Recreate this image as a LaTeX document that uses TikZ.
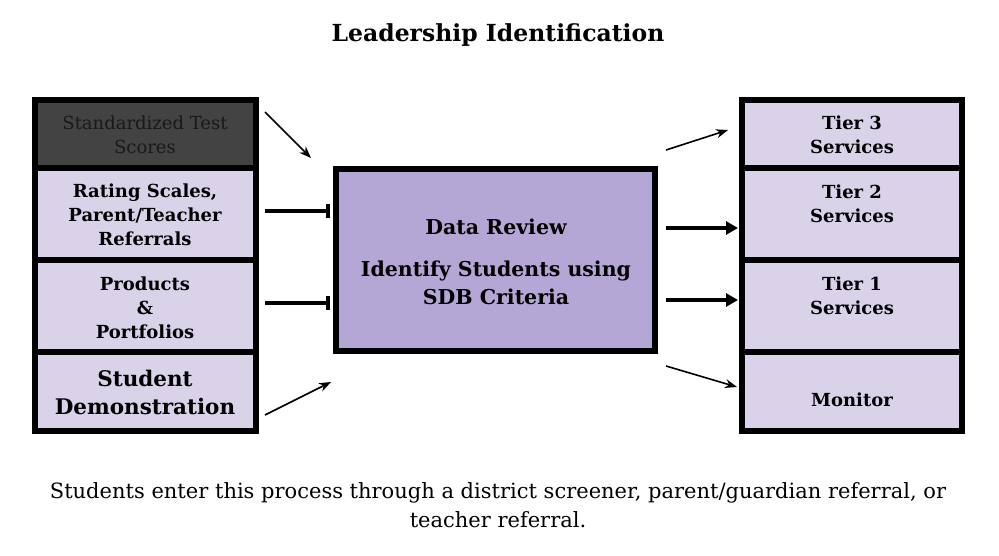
\documentclass[tikz,border=0pt]{standalone}
\usepackage{fontspec}
\setmainfont{DejaVu Serif}
\usetikzlibrary{arrows.meta}
\definecolor{cellc}{HTML}{D9D2E9}
\definecolor{midc}{HTML}{B4A7D6}
\definecolor{darkc}{HTML}{434343}
\begin{document}
\begin{tikzpicture}[x=1pt,y=-1pt,
  cell/.style={draw=black,line width=6pt,fill=cellc},
  arr/.style={-{Stealth[length=12pt,width=9pt]},line width=1.6pt},
  barr/.style={-{Bar[width=14pt]},line width=4pt},
  farr/.style={-{Triangle[length=12pt,width=13pt]},line width=4pt}]
\useasboundingbox (0,0) rectangle (999,555);
\node (title) at (498,35) {\bfseries\fontsize{23.5}{26}\selectfont Leadership Identification};
% left column
\path[cell,fill=darkc] (35,100) rectangle (256,168);
\node[text=black!90,align=center,font=\fontsize{18}{24}\selectfont] (l1) at (145,135) {Standardized Test\\Scores};
\path[cell] (35,168) rectangle (256,260);
\node[align=center,font=\bfseries\fontsize{18}{24}\selectfont] (l2) at (145,215) {Rating Scales,\\Parent/Teacher\\Referrals};
\path[cell] (35,260) rectangle (256,352);
\node[align=center,font=\bfseries\fontsize{18}{24}\selectfont] (l3) at (145,308) {Products\\\&\\Portfolios};
\path[cell] (35,352) rectangle (256,431);
\node[align=center,font=\bfseries\fontsize{21.5}{28}\selectfont] (l4) at (145,392) {Student\\Demonstration};
% center
\path[cell,fill=midc] (336,169) rectangle (655,351);
\node[align=center,font=\bfseries\fontsize{20.5}{28}\selectfont] (c) at (496,262) {Data Review\\[14pt]Identify Students using\\SDB Criteria};
% right column
\path[cell] (742,100) rectangle (962,168);
\node[align=center,font=\bfseries\fontsize{18}{24}\selectfont] (r1) at (852,135) {Tier 3\\Services};
\path[cell] (742,168) rectangle (962,260);
\node[align=center,font=\bfseries\fontsize{18}{24}\selectfont] (r2) at (852,204) {Tier 2\\Services};
\path[cell] (742,260) rectangle (962,352);
\node[align=center,font=\bfseries\fontsize{18}{24}\selectfont] (r3) at (852,296) {Tier 1\\Services};
\path[cell] (742,352) rectangle (962,431);
\node[align=center,font=\bfseries\fontsize{18}{24}\selectfont] (r4) at (852,400) {Monitor};
% arrows
\coordinate (a1s) at (265,112); \coordinate (a1e) at (311,158);
\coordinate (a2s) at (265,211); \coordinate (a2e) at (330,211);
\coordinate (a3s) at (265,303); \coordinate (a3e) at (330,303);
\coordinate (a4s) at (265,415); \coordinate (a4e) at (331,382);
\coordinate (b1s) at (666,150); \coordinate (b1e) at (728,130);
\coordinate (b2s) at (666,228); \coordinate (b2e) at (738,228);
\coordinate (b3s) at (666,300); \coordinate (b3e) at (738,300);
\coordinate (b4s) at (666,366); \coordinate (b4e) at (737,387);
\draw[arr] (a1s) -- (a1e);
\draw[barr] (a2s) -- (a2e);
\draw[barr] (a3s) -- (a3e);
\draw[arr] (a4s) -- (a4e);
\draw[arr] (b1s) -- (b1e);
\draw[farr] (b2s) -- (b2e);
\draw[farr] (b3s) -- (b3e);
\draw[arr] (b4s) -- (b4e);
\node[align=center,font=\fontsize{21}{29}\selectfont] (foot) at (498,505) {Students enter this process through a district screener, parent/guardian referral, or\\teacher referral.};
\end{tikzpicture}
\end{document}
